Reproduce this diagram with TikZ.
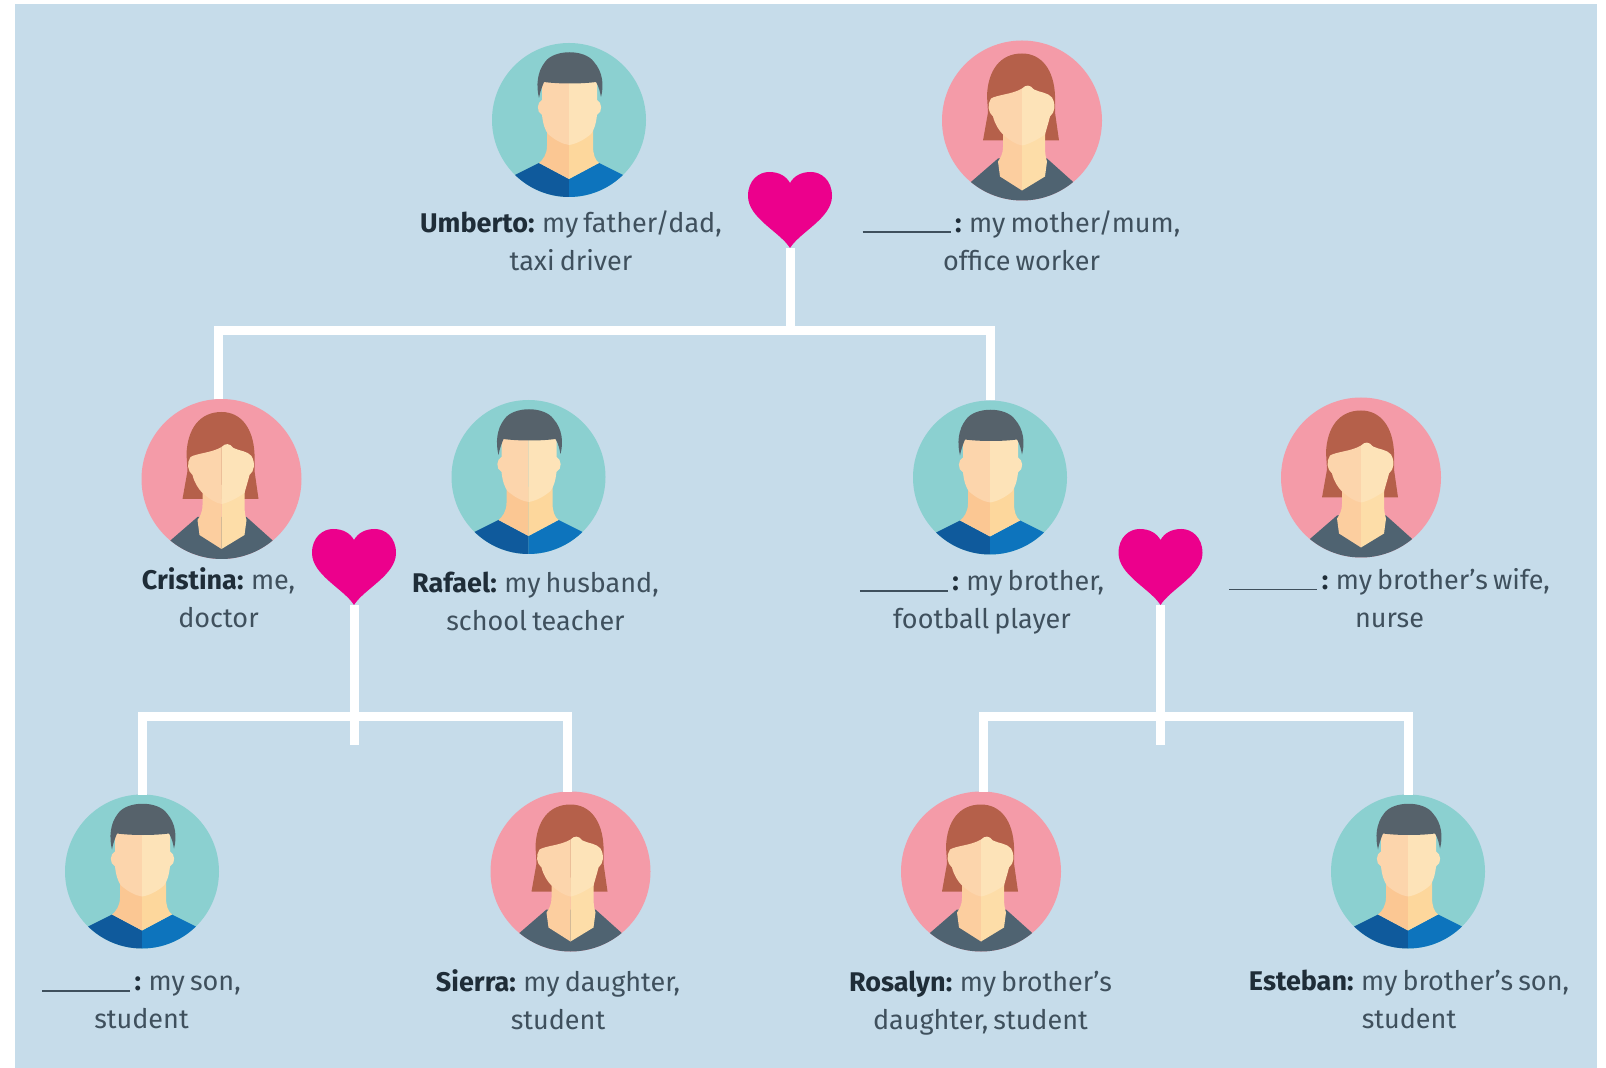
\documentclass[tikz,border=0pt]{standalone}
\usepackage{fontspec}
\setmainfont{Fira Sans}[WordSpace=0.72]
\definecolor{panelblue}{HTML}{C6DCEA}
\definecolor{manback}{HTML}{8BD0D0}
\definecolor{womanback}{HTML}{F49BA8}
\definecolor{skinleft}{HTML}{FCD5AC}
\definecolor{skinright}{HTML}{FDE3B8}
\definecolor{neckleft}{HTML}{FBC793}
\definecolor{neckright}{HTML}{FDD79C}
\definecolor{womanneckleft}{HTML}{FCCE9F}
\definecolor{womanneckright}{HTML}{FDDDA8}
\definecolor{manhair}{HTML}{56626B}
\definecolor{womanhair}{HTML}{B5604A}
\definecolor{shirtleft}{HTML}{0F5A9C}
\definecolor{shirtright}{HTML}{0D74BD}
\definecolor{womanshirt}{HTML}{4F6371}
\definecolor{heartpink}{HTML}{EC008C}
\definecolor{captiongrey}{HTML}{3F505D}
\definecolor{namegrey}{HTML}{1F2D38}
\newcommand{\nameblank}{\rule[-0.5pt]{44pt}{0.9pt}\,\textbf{\color{namegrey}:}}
\newcommand{\personname}[1]{\textbf{\color{namegrey}#1:}}
\tikzset{
  manface/.style={circle,fill=manback,inner sep=0pt,outer sep=0pt,minimum size=77pt},
  womanface/.style={circle,fill=womanback,inner sep=0pt,outer sep=0pt,minimum size=80pt},
  captiontext/.style={align=center,text=captiongrey,font=\fontsize{13.5}{19}\selectfont,inner sep=0pt,
    execute at begin node=\strut,execute at end node=\strut},
  familyline/.style={draw=white,line width=4.5pt,line join=miter},
  manicon/.pic={
    \begin{scope}
      \clip (0,0) circle [radius=38.5pt];
      \fill[shirtleft] (-56,56) -- (-30,43) -- (0,59) -- (0,80) -- (-56,80) -- cycle;
      \fill[shirtright] (56,56) -- (30,43) -- (0,59) -- (0,80) -- (56,80) -- cycle;
    \end{scope}
    \fill[neckleft] (-22,10) -- (-22,26) .. controls (-22,34) and (-26,40) .. (-30,43) -- (0,59) -- (0,10) -- cycle;
    \fill[neckright] (24,10) -- (24,26) .. controls (24,34) and (26,40) .. (30,43) -- (0,59) -- (0,10) -- cycle;
    \fill[skinleft] (0,-45) -- (-27,-45) -- (-27,-20) .. controls (-32,-18) and (-33,-8) .. (-27,-5) .. controls (-26,4) and (-24,10) .. (-21,14) .. controls (-14,20) and (-7,24) .. (0,25) -- cycle;
    \fill[skinright] (0,-45) -- (28,-45) -- (28,-20) .. controls (33,-18) and (34,-8) .. (28,-5) .. controls (27,4) and (25,10) .. (22,14) .. controls (15,20) and (7,24) .. (0,25) -- cycle;
    \fill[manhair] (-30,-22) .. controls (-33,-34) and (-32,-48) .. (-24,-58) .. controls (-15,-71) and (16,-71) .. (25,-58) .. controls (34,-48) and (35,-34) .. (32,-23) .. controls (31,-28) and (30,-33) .. (27,-38) .. controls (12,-36) and (-10,-36) .. (-25,-38) .. controls (-27,-33) and (-29,-28) .. (-30,-22) -- cycle;
  },
  womanicon/.pic={
    \begin{scope}
      \clip (0,0) circle [radius=40pt];
      \fill[womanshirt] (-54,64) -- (-24,38) -- (25,38) -- (54,64) -- (54,84) -- (-54,84) -- cycle;
    \end{scope}
    \fill[womanhair] (-39,20) -- (-34,-8) -- (-35,-25) .. controls (-34,-50) and (-22,-67) .. (0,-67) .. controls (20,-67) and (32,-50) .. (33,-25) -- (33,-8) -- (37,20) -- cycle;
    \fill[womanneckleft] (-19,6) -- (-19,26) .. controls (-19,34) and (-22,38) .. (-24,41) -- (-22,56) -- (0,70) -- (0,6) -- cycle;
    \fill[womanneckright] (23,6) -- (23,26) .. controls (23,34) and (24,38) .. (25,41) -- (23,56) -- (0,70) -- (0,6) -- cycle;
    \fill[skinleft] (0,-32) .. controls (-10,-26) and (-24,-26) .. (-31,-22) .. controls (-35,-16) and (-34,-8) .. (-29,-4) .. controls (-27,4) and (-23,10) .. (-19,14) .. controls (-12,20) and (-6,24) .. (0,25) -- cycle;
    \fill[skinright] (0,-32) .. controls (4,-36) and (8,-36) .. (12,-31) .. controls (18,-28) and (26,-28) .. (30,-23) .. controls (34,-16) and (33,-8) .. (28,-4) .. controls (26,4) and (24,10) .. (23,14) .. controls (14,20) and (6,24) .. (0,25) -- cycle;
  },
  hearticon/.pic={
    \fill[heartpink] (0,0) .. controls (-10,-16) and (-42,-30) .. (-42,-52) .. controls (-42,-68) and (-31,-76) .. (-21,-76) .. controls (-11,-76) and (-4,-72) .. (0,-65) .. controls (4,-72) and (11,-76) .. (21,-76) .. controls (31,-76) and (42,-68) .. (42,-52) .. controls (42,-30) and (10,-16) .. (0,0) -- cycle;
  }
}
\begin{document}
\begin{tikzpicture}[x=0.5pt,y=-0.5pt]
\useasboundingbox (0,0) rectangle (1606,1068);
\fill[panelblue] (15,4) rectangle (1597,1068);

\node[manface] (umberto) at (569,120) {};
\node[womanface] (mother) at (1022,120.5) {};
\node[womanface] (cristina) at (221.5,479) {};
\node[manface] (rafael) at (528.5,477) {};
\node[manface] (brother) at (990,477.5) {};
\node[womanface] (wife) at (1361,477.5) {};
\node[manface] (son) at (142,871.5) {};
\node[womanface] (sierra) at (570.5,871.5) {};
\node[womanface] (rosalyn) at (981,871.5) {};
\node[manface] (esteban) at (1408,871.5) {};

\foreach \who in {umberto,rafael,brother,son,esteban}
  \pic at (\who) {manicon};
\foreach \who in {mother,cristina,wife,sierra,rosalyn}
  \pic at (\who) {womanicon};

\coordinate (heartone) at (790,248);
\coordinate (hearttwo) at (354,605);
\coordinate (heartthree) at (1160.5,605);
\coordinate (barone) at (790,331);
\coordinate (bartwo) at (354,717);
\coordinate (barthree) at (1160.5,717);
\coordinate (stubtwo) at (354,745);
\coordinate (stubthree) at (1160.5,745);

\draw[familyline] (heartone) -- (barone);
\draw[familyline] (cristina.92) |- (barone) -| (brother.north);
\draw[familyline] (hearttwo) -- (stubtwo);
\draw[familyline] (son.north) |- (bartwo) -| (sierra.92);
\draw[familyline] (heartthree) -- (stubthree);
\draw[familyline] (rosalyn.88) |- (barthree) -| (esteban.north);

\foreach \tip in {heartone,hearttwo,heartthree}
  \pic at (\tip) {hearticon};

\node[captiontext] (umbertotext) at (571,246) {\personname{Umberto} my father/dad,\\taxi driver};
\node[captiontext] (mothertext) at (1021.5,246) {\nameblank{} my mother/mum,\\office worker};
\node[captiontext] (cristinatext) at (218.5,603.5) {\personname{Cristina} me,\\doctor};
\node[captiontext] (rafaeltext) at (535.5,606.5) {\personname{Rafael} my husband,\\school teacher};
\node[captiontext] (brothertext) at (982,605.5) {\nameblank{} my brother,\\football player};
\node[captiontext] (wifetext) at (1389.5,603.5) {\nameblank{} my brother's wife,\\nurse};
\node[captiontext] (sontext) at (141.5,1008) {\nameblank{} my son,\\student};
\node[captiontext] (sierratext) at (558,1005) {\personname{Sierra} my daughter,\\student};
\node[captiontext] (rosalyntext) at (980.5,1005.5) {\personname{Rosalyn} my brother's\\daughter, student};
\node[captiontext] (estebantext) at (1409,1005) {\personname{Esteban} my brother's son,\\student};
\end{tikzpicture}
\end{document}
